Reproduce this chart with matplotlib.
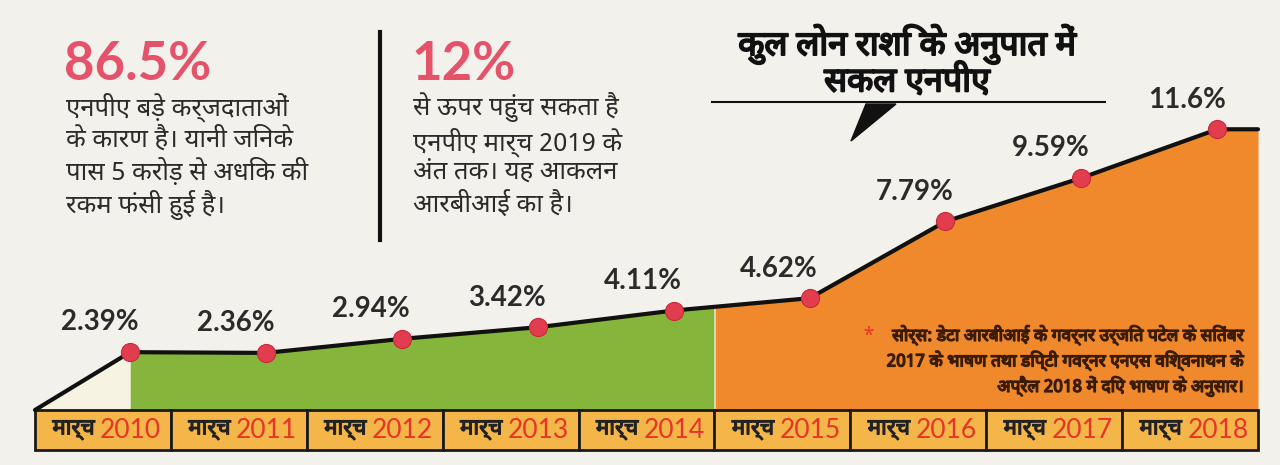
import matplotlib.pyplot as plt
import matplotlib as mpl
import matplotlib.patheffects as pe
from matplotlib.patches import Rectangle, Polygon
import numpy as np

HI = ["Noto Sans Devanagari", "Lohit Devanagari", "FreeSans", "Noto Sans", "DejaVu Sans"]
mpl.rcParams["font.family"] = HI

years = ["2010", "2011", "2012", "2013", "2014", "2015", "2016", "2017", "2018"]
npa = [2.39, 2.36, 2.94, 3.42, 4.11, 4.62, 7.79, 9.59, 11.6]
npa_labels = ["2.39%", "2.36%", "2.94%", "3.42%", "4.11%", "4.62%", "7.79%", "9.59%", "11.6%"]
month = "मार्च"

title = "कुल लोन राशि के अनुपात में\nसकल एनपीए"
left_big = "86.5%"
left_body = "एनपीए बड़े कर्जदाताओं\nके कारण है। यानी जिनके\nपास 5 करोड़ से अधिक की\nरकम फंसी हुई है।"
mid_big = "12%"
mid_body = "से ऊपर पहुंच सकता है\nएनपीए मार्च 2019 के\nअंत तक। यह आकलन\nआरबीआई का है।"
source = ("सोर्स: डेटा आरबीआई के गवर्नर उर्जित पटेल के सितंबर\n"
          "2017 के भाषण तथा डिप्टी गवर्नर एनएस विश्वनाथन के\n"
          "अप्रैल 2018 में दिए भाषण के अनुसार।")

C_BG = "#f3f1ec"
C_GREEN = "#86b53c"
C_ORANGE = "#f0882c"
C_PALE = "#f7f3e2"
C_STRIP = "#f4b648"
C_PINK = "#e5536b"
C_RED = "#e8332a"
C_DOT = "#e23d4f"
C_TEXT = "#2b2b2b"


def heavy(color, w=1.0):
    # the Devanagari face has no bold weight, so thicken it with a stroke
    return [pe.withStroke(linewidth=w, foreground=color)]


W, H = 1280, 465
fig = plt.figure(figsize=(W / 100, H / 100), dpi=100, facecolor=C_BG)
ax = fig.add_axes([0, 0, 1, 1])
ax.set_facecolor(C_BG)

# map data to the pixel layout: x index -0.5..8.5 -> 35..1258 px, y 0 at 410 px
xu = (1258 - 35) / 9.0
yu = 24.2
ax.set_xlim(-0.5 - 35 / xu, 8.5 + (W - 1258) / xu)
ax.set_ylim(-(H - 410) / yu, 410 / yu)
ax.axis("off")


def fx(px):
    return px / W


def fy(py):
    return 1 - py / H


n = len(years)
idx = np.arange(n)
xp = idx + 0.2  # points sit a bit right of the cell centre, like the print

# line path: from strip left edge to right edge
lx = np.concatenate([[-0.5], xp, [8.5]])
ly = np.concatenate([[0], npa, [npa[-1]]])

grid = np.linspace(-0.5, 8.5, 900)
gy = np.interp(grid, lx, ly)
ax.fill_between(grid, 0, gy, where=grid <= xp[0], color=C_PALE, lw=0)
ax.fill_between(grid, 0, gy, where=(grid >= xp[0]) & (grid <= 4.5), color=C_GREEN, lw=0)
ax.fill_between(grid, 0, gy, where=grid >= 4.5, color=C_ORANGE, lw=0)
ax.plot(lx, ly, color="#111111", lw=3, solid_capstyle="round", zorder=3)
ax.scatter(xp, npa, s=170, color=C_DOT, zorder=4, edgecolor="#c9283c", lw=0.8)

for x, v, lab in zip(xp, npa, npa_labels):
    ax.annotate(lab, (x, v), xytext=(-22, 12), textcoords="offset points",
                ha="center", va="bottom", fontsize=20, fontweight="bold",
                family=["Lato", "DejaVu Sans"], color=C_TEXT)

# month strip
sh = 40 / yu
for i, yr in enumerate(years):
    ax.add_patch(Rectangle((i - 0.5, -sh), 1, sh, facecolor=C_STRIP,
                           edgecolor="#1a1a1a", lw=2, zorder=2))
    ax.text(i - 0.06, -sh / 2, month, ha="right", va="center", fontsize=16,
            color="#222222", path_effects=heavy("#222222", 0.9))
    ax.text(i - 0.02, -sh / 2, yr, ha="left", va="center", fontsize=19,
            color=C_RED, family=["Lato", "DejaVu Sans"])

# left text block
fig.text(fx(64), fy(64), left_big, ha="left", va="center", fontsize=38,
         fontweight="bold", color=C_PINK, family=["Lato", "DejaVu Sans"])
fig.text(fx(66), fy(92), left_body, ha="left", va="top", fontsize=18.5,
         color=C_TEXT, linespacing=1.22)

# divider
ax.plot([fx(380), fx(380)], [fy(32), fy(240)], color="#111111", lw=3,
        transform=fig.transFigure)

# middle text block
fig.text(fx(411), fy(64), mid_big, ha="left", va="center", fontsize=38,
         fontweight="bold", color=C_PINK, family=["Lato", "DejaVu Sans"])
fig.text(fx(413), fy(92), mid_body, ha="left", va="top", fontsize=18.5,
         color=C_TEXT, linespacing=1.22)

# title with rule and pointer
fig.text(fx(907), fy(62), title, ha="center", va="center", fontsize=24.5,
         color="#111111", linespacing=1.05, path_effects=heavy("#111111", 1.4))
ax.plot([fx(712), fx(1105)], [fy(102), fy(102)], color="#111111", lw=1.5,
        transform=fig.transFigure)
ax.add_patch(Polygon([[fx(866), fy(104)], [fx(896), fy(104)], [fx(851), fy(141)]],
                     closed=True, color="#111111", transform=fig.transFigure))

# source note
fig.text(fx(1244), fy(361), source, ha="right", va="center", fontsize=12.5,
         color="#3a1c05", linespacing=1.3, path_effects=heavy("#3a1c05", 1.0))
fig.text(fx(868), fy(336), "*", ha="center", va="center", fontsize=14,
         color=C_RED, fontweight="bold")

fig.savefig("out.png", dpi=100, facecolor=C_BG)
